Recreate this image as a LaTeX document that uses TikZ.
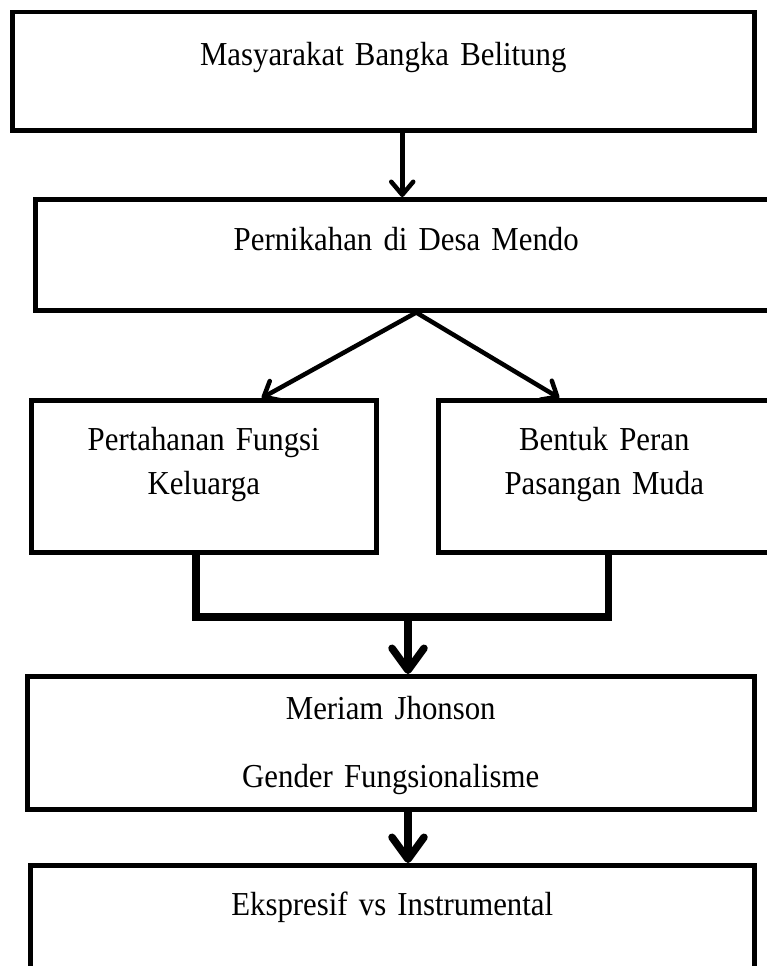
\documentclass[tikz,border=0pt]{standalone}
\usepackage{fontspec}
\setmainfont{Liberation Serif}[FakeStretch=0.92]
\usetikzlibrary{arrows.meta, positioning}

\tikzset{
  kotak/.style={draw, line width=4.5pt, inner sep=0pt, anchor=north west, align=center,
    font=\fontsize{33.5}{44}\selectfont},
  panah/.style={line width=4.5pt, -{Straight Barb[length=13pt, width=22pt, round]}},
  panahdua/.style={line width=4.5pt, line join=miter,
    {Straight Barb[length=13pt, width=22pt, round]}-{Straight Barb[length=13pt, width=22pt, round]}},
  panahtebal/.style={line width=7.5pt, -{Straight Barb[length=22pt, width=32pt, round]}},
}

\begin{document}
\begin{tikzpicture}[x=1pt, y=-1pt]
	\useasboundingbox (0,0) rectangle (766,966);
	
	\node[kotak, text width=742pt, text height=53pt, text depth=65pt] (masyarakat) at (10,10) {Masyarakat Bangka Belitung};
	\node[kotak, text width=742pt, text height=51pt, text depth=60pt] (pernikahan) at (33,197) {Pernikahan di Desa Mendo};
	\node[kotak, text width=345pt, text height=50pt, text depth=102pt] (fungsi) at (29,398) {Pertahanan Fungsi\\Keluarga};
	\node[kotak, text width=332pt, text height=50pt, text depth=102pt] (peran) at (436,398) {Bentuk Peran\\Pasangan Muda};
	\node[kotak, text width=727pt, text height=43pt, text depth=90pt] (teori) at (25,674) {Meriam Jhonson\\[24pt]Gender Fungsionalisme};
	\node[kotak, text width=724pt, text height=50pt, text depth=100pt] (ekspresif) at (28,863) {Ekspresif vs Instrumental};
	
	\coordinate (puncak) at ([xshift=10pt]pernikahan.south);
	\coordinate (gabung) at (408,617);
	
	\draw[panah] ([xshift=-4pt]pernikahan.north |- masyarakat.south) -- ([xshift=-4pt]pernikahan.north);
	\draw[panahdua] ([xshift=58pt]fungsi.north) -- (puncak) -- ([xshift=-45pt]peran.north);
	
	\draw[line width=7.5pt, line join=miter] ([xshift=-8pt]fungsi.south) |- (gabung) -| ([xshift=4pt]peran.south);
	\draw[panahtebal] (gabung) -- (gabung |- teori.north);
	\draw[panahtebal] (gabung |- teori.south) -- (gabung |- ekspresif.north);
\end{tikzpicture}
\end{document}
